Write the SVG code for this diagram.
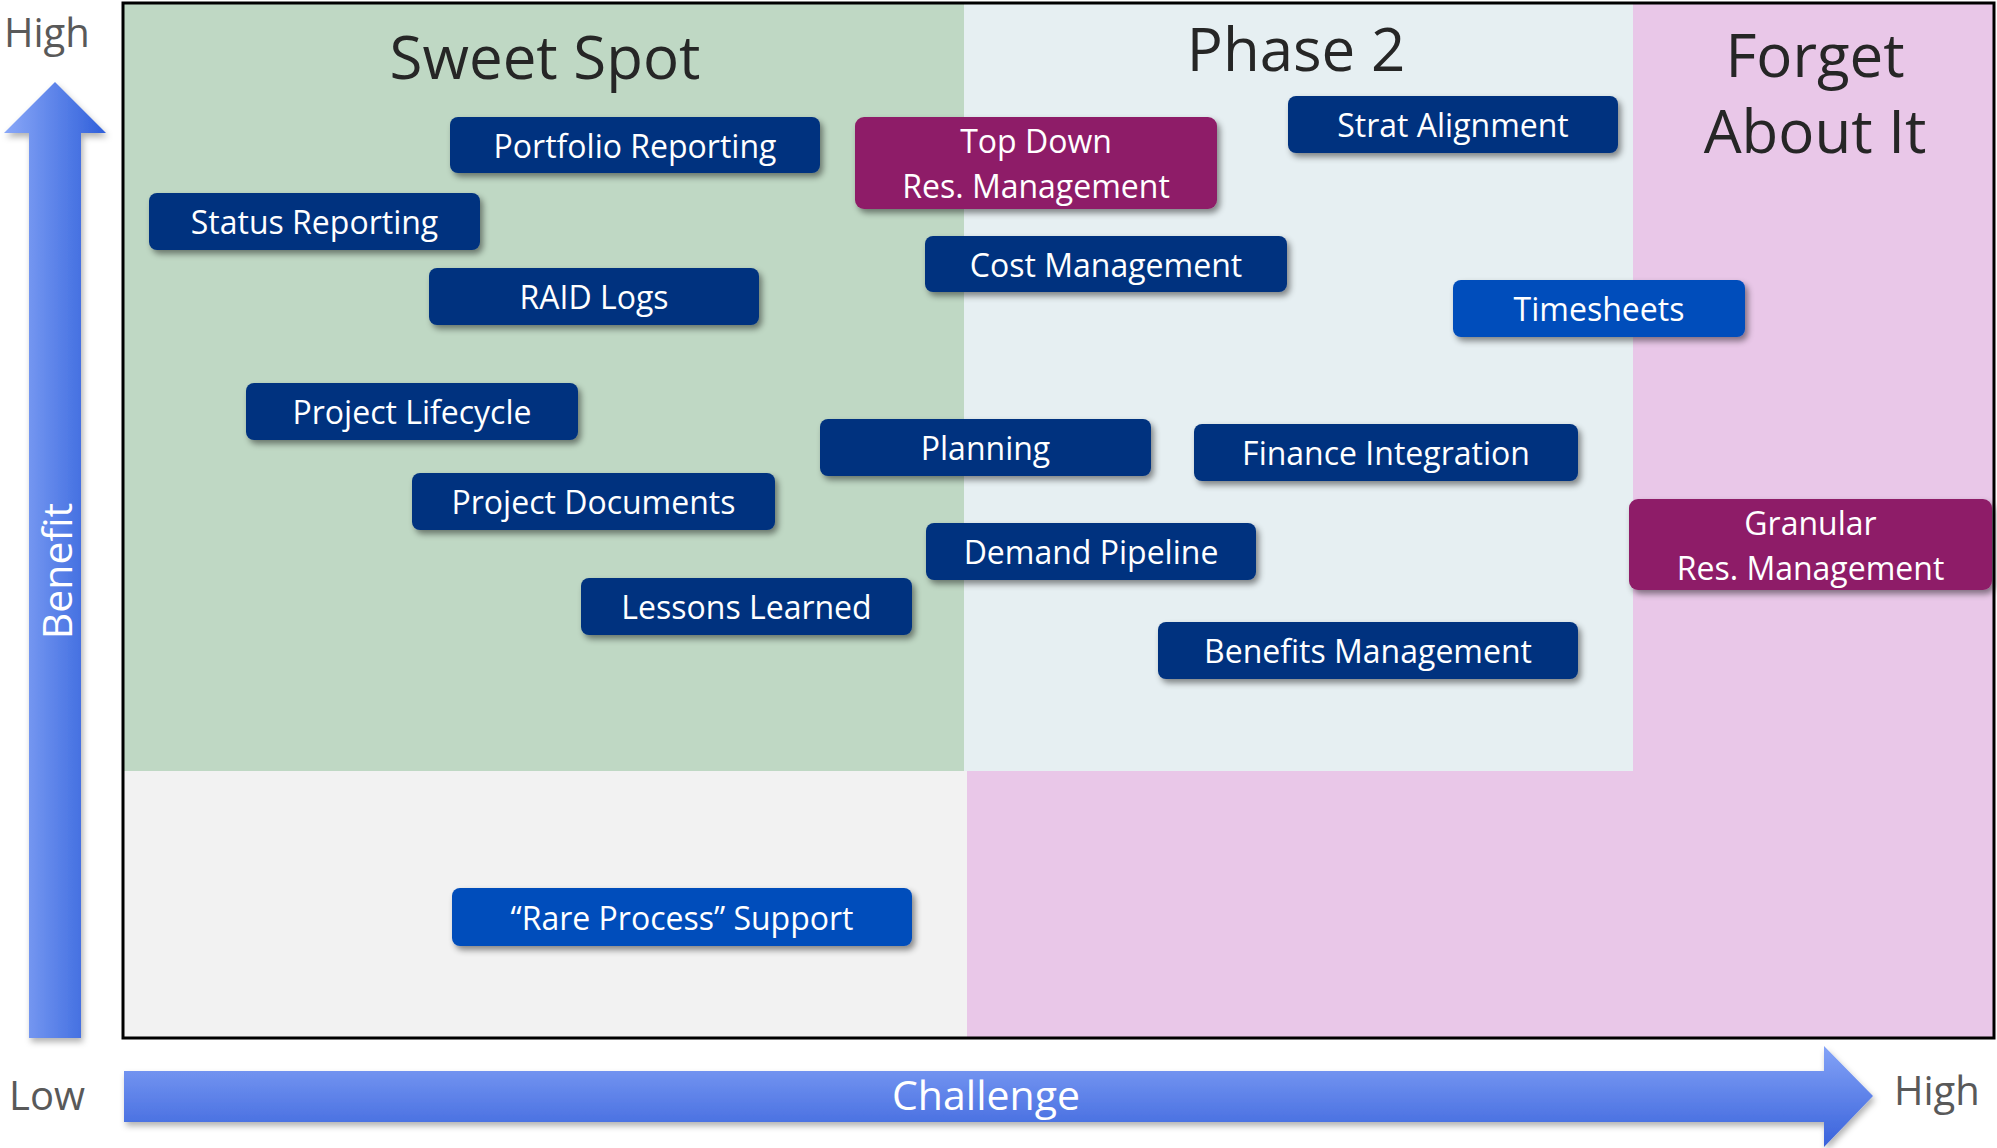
<svg xmlns="http://www.w3.org/2000/svg" width="1997" height="1148" viewBox="0 0 1997 1148">
<defs>
<style>
.box{stroke:none;}
.navy{fill:#00337F;}
.purple{fill:#8E1C67;}
.bright{fill:#004DBB;}
.lbl{font-family:"Open Sans","Noto Sans","Liberation Sans",sans-serif;font-size:32px;fill:#FFFFFF;text-anchor:middle;}
.title{font-family:"Open Sans","Noto Sans","Liberation Sans",sans-serif;font-size:60px;fill:#262626;text-anchor:middle;}
.axis{font-family:"Open Sans","Noto Sans","Liberation Sans",sans-serif;font-size:40px;fill:#595959;}
.axisw{font-family:"Open Sans","Noto Sans","Liberation Sans",sans-serif;font-size:41px;fill:#FFFFFF;text-anchor:middle;}
</style>
<filter id="sh" x="-10%" y="-20%" width="125%" height="150%">
<feDropShadow dx="3" dy="4" stdDeviation="3" flood-color="#000000" flood-opacity="0.45"/>
</filter>
<filter id="ash" x="-10%" y="-10%" width="125%" height="130%">
<feDropShadow dx="2" dy="4" stdDeviation="3" flood-color="#000000" flood-opacity="0.3"/>
</filter>
<linearGradient id="gv" x1="0" y1="0" x2="1" y2="0">
<stop offset="0" stop-color="#8AA8F8"/>
<stop offset="1" stop-color="#2F5FDA"/>
</linearGradient>
<linearGradient id="gh" x1="0" y1="0" x2="0" y2="1">
<stop offset="0" stop-color="#84A3F7"/>
<stop offset="1" stop-color="#3962DB"/>
</linearGradient>
</defs>

<rect x="0" y="0" width="1997" height="1148" fill="#FFFFFF"/>

<g id="regions">
<rect x="123" y="3" width="1871" height="1035" fill="#F2F2F2"/>
<rect x="123" y="3" width="841" height="768" fill="#BFD8C4"/>
<rect x="964" y="3" width="669" height="768" fill="#E6EFF2"/>
<rect x="1633" y="3" width="361" height="1035" fill="#E9C7E8"/>
<rect x="967" y="771" width="1027" height="267" fill="#E9C7E8"/>
<rect x="123" y="3" width="1871" height="1035" fill="none" stroke="#000000" stroke-width="3"/>
</g>

<g id="titles">
<text class="title" x="545" y="79">Sweet Spot</text>
<text class="title" x="1296" y="71">Phase 2</text>
<text class="title" x="1815" y="77">Forget</text>
<text class="title" x="1815" y="153">About It</text>
</g>

<g id="axes">
<polygon filter="url(#ash)" fill="url(#gv)" points="55,82 106,133 81,133 81,1038 29,1038 29,133 4,133"/>
<text class="axisw" transform="translate(72,571) rotate(-90)" x="0" y="0">Benefit</text>
<polygon filter="url(#ash)" fill="url(#gh)" points="124,1071 1824,1071 1824,1046 1873,1096 1824,1147 1824,1122 124,1122"/>
<text class="axisw" x="986" y="1110">Challenge</text>
<text class="axis" x="4" y="47">High</text>
<text class="axis" x="9" y="1110">Low</text>
<text class="axis" x="1894" y="1105">High</text>
</g>

<g id="connectors"></g>

<g id="n-portfolio-reporting">
<rect class="box navy" filter="url(#sh)" x="450" y="117" width="370" height="56" rx="8"/>
<text class="lbl" x="635" y="157.5">Portfolio Reporting</text>
</g>
<g id="n-top-down">
<rect class="box purple" filter="url(#sh)" x="855" y="117" width="362" height="92" rx="9"/>
<text class="lbl" x="1036" y="152.5">Top Down</text>
<text class="lbl" x="1036" y="197.5">Res. Management</text>
</g>
<g id="n-strat-alignment">
<rect class="box navy" filter="url(#sh)" x="1288" y="96" width="330" height="57" rx="8"/>
<text class="lbl" x="1453" y="137">Strat Alignment</text>
</g>
<g id="n-status-reporting">
<rect class="box navy" filter="url(#sh)" x="149" y="193" width="331" height="57" rx="8"/>
<text class="lbl" x="314.5" y="234">Status Reporting</text>
</g>
<g id="n-cost-management">
<rect class="box navy" filter="url(#sh)" x="925" y="236" width="362" height="56" rx="8"/>
<text class="lbl" x="1106" y="276.5">Cost Management</text>
</g>
<g id="n-raid-logs">
<rect class="box navy" filter="url(#sh)" x="429" y="268" width="330" height="57" rx="8"/>
<text class="lbl" x="594" y="309">RAID Logs</text>
</g>
<g id="n-timesheets">
<rect class="box bright" filter="url(#sh)" x="1453" y="280" width="292" height="57" rx="8"/>
<text class="lbl" x="1599" y="321">Timesheets</text>
</g>
<g id="n-project-lifecycle">
<rect class="box navy" filter="url(#sh)" x="246" y="383" width="332" height="57" rx="8"/>
<text class="lbl" x="412" y="424">Project Lifecycle</text>
</g>
<g id="n-planning">
<rect class="box navy" filter="url(#sh)" x="820" y="419" width="331" height="57" rx="8"/>
<text class="lbl" x="985.5" y="460">Planning</text>
</g>
<g id="n-finance-integration">
<rect class="box navy" filter="url(#sh)" x="1194" y="424" width="384" height="57" rx="8"/>
<text class="lbl" x="1386" y="465">Finance Integration</text>
</g>
<g id="n-project-documents">
<rect class="box navy" filter="url(#sh)" x="412" y="473" width="363" height="57" rx="8"/>
<text class="lbl" x="593.5" y="514">Project Documents</text>
</g>
<g id="n-demand-pipeline">
<rect class="box navy" filter="url(#sh)" x="926" y="523" width="330" height="57" rx="8"/>
<text class="lbl" x="1091" y="564">Demand Pipeline</text>
</g>
<g id="n-lessons-learned">
<rect class="box navy" filter="url(#sh)" x="581" y="578" width="331" height="57" rx="8"/>
<text class="lbl" x="746.5" y="619">Lessons Learned</text>
</g>
<g id="n-benefits-management">
<rect class="box navy" filter="url(#sh)" x="1158" y="622" width="420" height="57" rx="8"/>
<text class="lbl" x="1368" y="663">Benefits Management</text>
</g>
<g id="n-granular">
<rect class="box purple" filter="url(#sh)" x="1629" y="499" width="363" height="91" rx="9"/>
<text class="lbl" x="1810.5" y="534.5">Granular</text>
<text class="lbl" x="1810.5" y="579.5">Res. Management</text>
</g>
<g id="n-rare-process">
<rect class="box bright" filter="url(#sh)" x="452" y="888" width="460" height="58" rx="8"/>
<text class="lbl" x="682" y="929.5">“Rare Process” Support</text>
</g>
</svg>
